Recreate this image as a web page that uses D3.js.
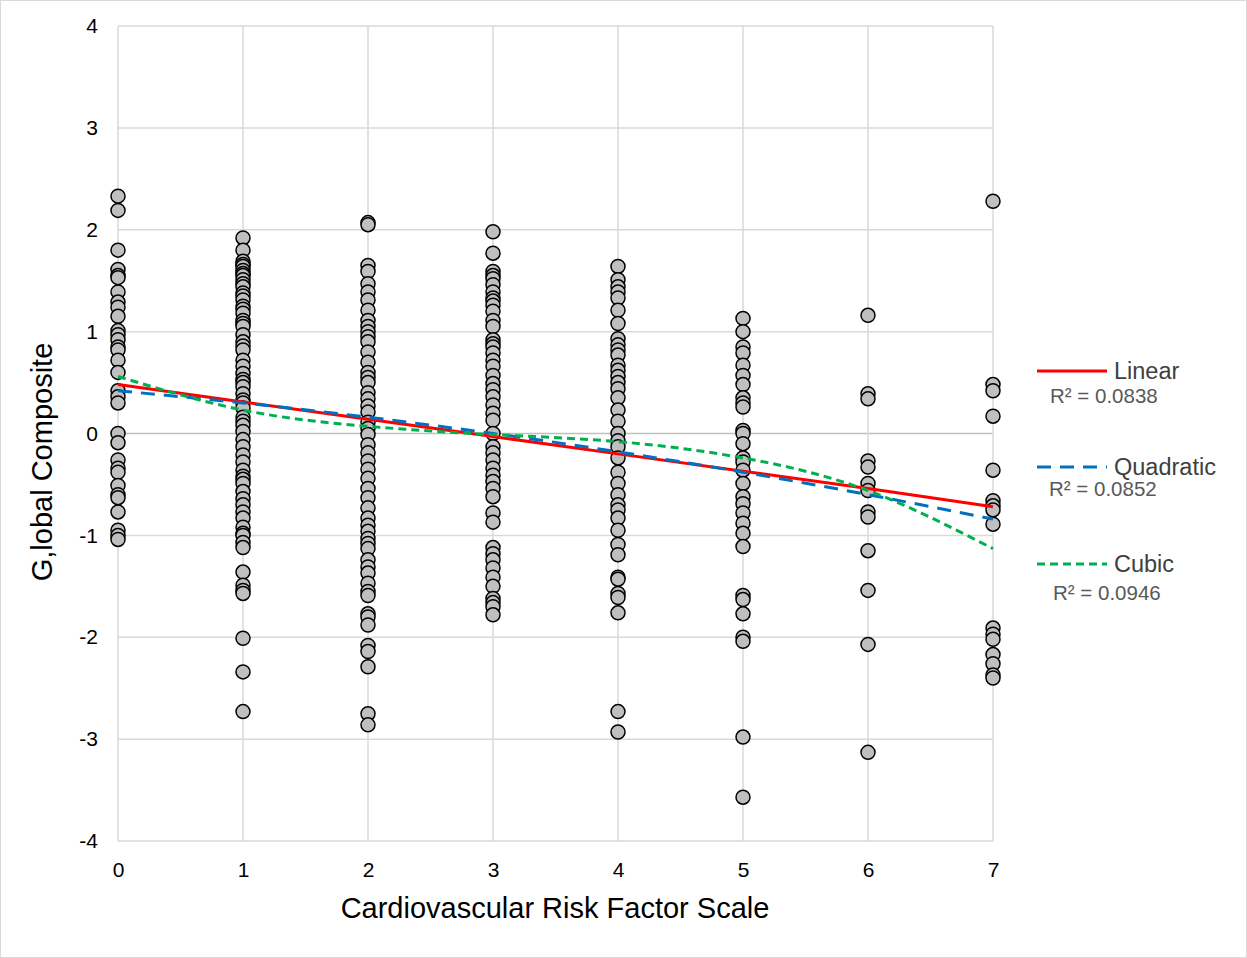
<!DOCTYPE html>
<html>
<head>
<meta charset="utf-8">
<script src="https://cdn.jsdelivr.net/npm/d3@7"></script>
<style>
  html, body { margin: 0; padding: 0; background: #fff; }
  svg { display: block; font-family: "Liberation Sans", Arial, sans-serif; }
</style>
</head>
<body>
<svg id="chart" width="1247" height="958"></svg>
<script>
// ---- data ----
const riskScale = [0, 1, 2, 3, 4, 5, 6, 7];
const xTicks = [0, 1, 2, 3, 4, 5, 6, 7];
const yTicks = [-4, -3, -2, -1, 0, 1, 2, 3, 4];

const composite0 = [2.33, 2.19, 1.80, 1.61, 1.55, 1.53, 1.39, 1.29, 1.24, 1.15, 1.01, 0.97, 0.92, 0.85, 0.82, 0.72, 0.60, 0.42, 0.36, 0.30, 0.00, -0.09, -0.26, -0.34, -0.38, -0.51, -0.60, -0.63, -0.77, -0.95, -1.00, -1.04];
const composite1 = [1.92, 1.80, 1.69, 1.66, 1.64, 1.60, 1.57, 1.55, 1.51, 1.47, 1.44, 1.38, 1.35, 1.31, 1.25, 1.22, 1.18, 1.11, 1.08, 1.05, 0.97, 0.90, 0.86, 0.82, 0.72, 0.66, 0.59, 0.53, 0.50, 0.46, 0.39, 0.33, 0.30, 0.25, 0.16, 0.12, 0.08, 0.02, -0.06, -0.13, -0.21, -0.28, -0.36, -0.42, -0.45, -0.49, -0.57, -0.64, -0.70, -0.77, -0.83, -0.92, -0.98, -1.00, -1.07, -1.12, -1.36, -1.49, -1.54, -1.57, -2.01, -2.34, -2.73];
const composite2 = [2.07, 2.05, 1.65, 1.59, 1.47, 1.39, 1.31, 1.21, 1.11, 1.05, 1.00, 0.95, 0.90, 0.80, 0.70, 0.60, 0.55, 0.50, 0.40, 0.34, 0.27, 0.21, 0.11, 0.05, -0.01, -0.11, -0.19, -0.27, -0.35, -0.44, -0.54, -0.63, -0.73, -0.83, -0.90, -0.96, -1.03, -1.08, -1.13, -1.24, -1.31, -1.37, -1.47, -1.55, -1.59, -1.77, -1.80, -1.88, -2.08, -2.14, -2.29, -2.75, -2.86];
const composite3 = [1.98, 1.77, 1.59, 1.55, 1.52, 1.46, 1.39, 1.33, 1.30, 1.26, 1.20, 1.11, 1.05, 0.92, 0.88, 0.85, 0.79, 0.72, 0.66, 0.57, 0.49, 0.43, 0.36, 0.28, 0.20, 0.13, 0.00, -0.13, -0.19, -0.26, -0.34, -0.41, -0.47, -0.54, -0.62, -0.78, -0.87, -1.12, -1.18, -1.24, -1.32, -1.41, -1.50, -1.62, -1.66, -1.70, -1.78];
const composite4 = [1.64, 1.51, 1.44, 1.39, 1.33, 1.21, 1.08, 0.93, 0.87, 0.82, 0.77, 0.67, 0.62, 0.56, 0.50, 0.44, 0.35, 0.23, 0.12, 0.00, -0.07, -0.13, -0.24, -0.38, -0.49, -0.60, -0.70, -0.75, -0.83, -0.95, -1.09, -1.19, -1.41, -1.43, -1.57, -1.61, -1.76, -2.73, -2.93];
const composite5 = [1.13, 1.00, 0.85, 0.79, 0.67, 0.57, 0.48, 0.35, 0.30, 0.26, 0.03, 0.00, -0.10, -0.24, -0.28, -0.36, -0.49, -0.62, -0.69, -0.78, -0.88, -0.98, -1.11, -1.59, -1.63, -1.77, -2.00, -2.04, -2.98, -3.57];
const composite6 = [1.16, 0.39, 0.34, -0.27, -0.33, -0.49, -0.56, -0.77, -0.82, -1.15, -1.54, -2.07, -3.13];
const composite7 = [2.28, 0.48, 0.42, 0.17, -0.36, -0.66, -0.71, -0.75, -0.89, -1.91, -1.97, -2.02, -2.17, -2.26, -2.37, -2.40];

// trendline values read at each scale point
const linearFit = [0.48, 0.31, 0.14, -0.03, -0.20, -0.37, -0.54, -0.72];
const quadraticFit = [0.42, 0.30, 0.16, 0.00, -0.18, -0.38, -0.60, -0.84];
const cubicFit = [0.56, 0.23, 0.07, -0.01, -0.08, -0.24, -0.56, -1.13];

const legendNames = ["Linear", "Quadratic", "Cubic"];
const legendR2 = ["R\u00B2 = 0.0838", "R\u00B2 = 0.0852", "R\u00B2 = 0.0946"];

const xLabel = "Cardiovascular Risk Factor Scale";
const yLabel = "G,lobal Composite";

// ---- build ----
const columns = [composite0, composite1, composite2, composite3, composite4, composite5, composite6, composite7];
const points = [];
columns.forEach((col, i) => col.forEach(v => points.push({ x: riskScale[i], y: v })));

const svg = d3.select("#chart");
const W = 1247, H = 958;
const plot = { left: 118, right: 993, top: 26, bottom: 841 };

svg.append("rect").attr("x", 0.5).attr("y", 0.5).attr("width", W - 1).attr("height", H - 1)
  .attr("fill", "#fff").attr("stroke", "#d9d9d9").attr("stroke-width", 1);

const x = d3.scaleLinear().domain([0, 7]).range([plot.left, plot.right]);
const y = d3.scaleLinear().domain([-4, 4]).range([plot.bottom, plot.top]);

// gridlines
const grid = svg.append("g");
grid.selectAll("line.h").data(yTicks).join("line")
  .attr("x1", plot.left).attr("x2", plot.right)
  .attr("y1", d => y(d)).attr("y2", d => y(d))
  .attr("stroke", d => d === 0 ? "#bfbfbf" : "#d9d9d9").attr("stroke-width", 1.5);
grid.selectAll("line.v").data(xTicks).join("line")
  .attr("x1", d => x(d)).attr("x2", d => x(d))
  .attr("y1", plot.top).attr("y2", plot.bottom)
  .attr("stroke", "#d9d9d9").attr("stroke-width", 1.5);

// axes (labels only)
const fmt = d => String(d);
const yAxis = d3.axisLeft(y).tickValues(yTicks).tickSize(0).tickPadding(20).tickFormat(fmt);
const gy = svg.append("g").attr("transform", `translate(${plot.left},0)`).call(yAxis);
gy.select(".domain").remove();
gy.selectAll("text").attr("font-size", 21).attr("fill", "#000").attr("font-family", "Liberation Sans, Arial, sans-serif");

const xAxis = d3.axisBottom(x).tickValues(xTicks).tickSize(0).tickPadding(21).tickFormat(fmt);
const gx = svg.append("g").attr("transform", `translate(0,${plot.bottom})`).call(xAxis);
gx.select(".domain").remove();
gx.selectAll("text").attr("font-size", 21).attr("fill", "#000").attr("font-family", "Liberation Sans, Arial, sans-serif");

// points
svg.append("g").selectAll("circle").data(points).join("circle")
  .attr("cx", d => x(d.x)).attr("cy", d => y(d.y)).attr("r", 7)
  .attr("fill", "#bfbfbf").attr("stroke", "#000").attr("stroke-width", 1.5);

// trendlines
const lineLin = d3.line().x((d, i) => x(riskScale[i])).y(d => y(d));
const lineCurve = d3.line().x((d, i) => x(riskScale[i])).y(d => y(d)).curve(d3.curveNatural);

const trends = [
  { data: linearFit, gen: lineLin, color: "#ff0000", dash: null },
  { data: quadraticFit, gen: lineCurve, color: "#0070c0", dash: "14,9" },
  { data: cubicFit, gen: lineCurve, color: "#00b050", dash: "8,5" }
];
trends.forEach(t => {
  svg.append("path").attr("d", t.gen(t.data)).attr("fill", "none")
    .attr("stroke", t.color).attr("stroke-width", 3)
    .attr("stroke-dasharray", t.dash);
});

// axis titles
svg.append("text").attr("x", 555).attr("y", 918)
  .attr("text-anchor", "middle").attr("font-size", 29).attr("fill", "#000").text(xLabel);
svg.append("text").attr("transform", `translate(52,462) rotate(-90)`)
  .attr("text-anchor", "middle").attr("font-size", 29).attr("fill", "#000").text(yLabel);

// legend
const legendY = [371, 467, 564];
const r2Pos = [[1050, 403], [1049, 496], [1053, 600]];
const lg = svg.append("g");
trends.forEach((t, i) => {
  lg.append("line").attr("x1", 1037).attr("x2", 1107).attr("y1", legendY[i]).attr("y2", legendY[i])
    .attr("stroke", t.color).attr("stroke-width", 3).attr("stroke-dasharray", t.dash);
  lg.append("text").attr("x", 1114).attr("y", legendY[i] + 8).attr("font-size", 23.5)
    .attr("fill", "#404040").text(legendNames[i]);
  lg.append("text").attr("x", r2Pos[i][0]).attr("y", r2Pos[i][1]).attr("font-size", 20.5)
    .attr("fill", "#595959").text(legendR2[i]);
});
</script>
</body>
</html>
